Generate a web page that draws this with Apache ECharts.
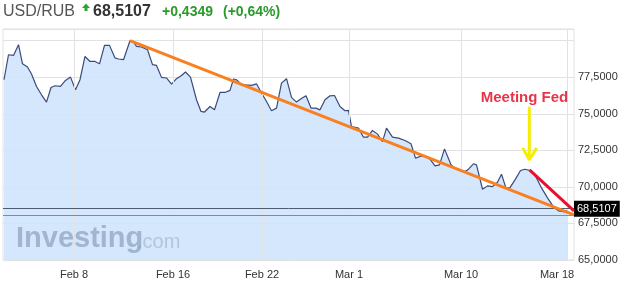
<!DOCTYPE html>
<html>
<head>
<meta charset="utf-8">
<script src="https://cdn.jsdelivr.net/npm/echarts@6/dist/echarts.min.js"></script>
<style>html,body{margin:0;padding:0;background:#fff}#c{width:626px;height:288px}</style>
</head>
<body>
<div id="c"></div>
<script>
// time index (trading sessions, arbitrary linear unit) and USD/RUB rate
const usdRub = [
 [0.2,77.33],[1.1,79.04],[2.1,78.99],[3.1,79.73],[3.9,78.42],[4.9,78.20],[5.7,77.72],[6.7,76.87],
 [7.7,76.30],[8.7,75.80],[9.6,76.80],[10.4,76.92],[11.5,76.87],[12.5,77.28],[13.5,77.51],[14.5,76.64],
 [15.4,77.33],[16.4,78.92],[17.4,78.58],[18.4,78.58],[19.3,78.42],[20.3,79.68],[21.3,79.68],[22.4,78.82],
 [23.1,78.75],[24.1,78.70],[25.4,80.00],[26.1,79.91],[26.7,79.61],[27.7,79.57],[28.9,79.38],[29.9,78.36],
 [30.7,78.31],[31.7,77.49],[32.7,77.45],[33.7,77.03],[34.7,77.40],[35.7,77.62],[36.5,77.86],[37.5,77.51],
 [38.7,75.96],[39.6,75.16],[40.3,75.12],[41.4,75.50],[42.3,75.27],[43.4,76.46],[44.4,76.46],[45.4,76.60],
 [46.1,77.38],[46.7,77.33],[47.7,76.99],[49.7,76.94],[50.7,77.05],[51.7,76.42],[52.7,75.84],[53.7,75.21],
 [54.7,75.39],[55.7,77.10],[56.7,77.40],[57.7,76.12],[58.7,75.80],[59.6,76.03],[60.6,76.23],[61.6,75.39],
 [62.6,75.39],[63.4,75.27],[64.4,75.96],[65.4,76.23],[66.3,76.25],[67.4,75.50],[68.4,75.21],[69.1,75.23],
 [69.7,74.13],[71.1,74.02],[72.1,73.40],[72.9,73.40],[73.9,73.86],[74.9,73.61],[75.9,73.10],[76.7,74.02],
 [77.9,73.40],[79.1,73.34],[80.4,73.17],[81.6,72.95],[82.5,71.97],[83.4,72.08],[84.4,72.08],[85.4,71.90],
 [86.4,71.44],[87.3,71.51],[88.3,72.60],[89.6,71.51],[90.4,71.28],[91.4,71.16],[92.4,71.05],[93.1,71.21],
 [94.1,71.58],[94.7,71.51],[95.9,69.84],[96.9,70.07],[97.9,70.02],[98.9,70.32],[99.7,70.87],[100.6,69.91],
 [101.4,69.95],[102.4,70.48],[103.5,71.12],[104.4,71.21],[105.4,71.12],[106.4,70.82],[107.7,69.93],[108.9,69.25],
 [110.1,68.63],[111.1,68.36],[112.4,68.29],[113.0,68.45]
];
const tickPositions = [14.2, 34, 51.8, 69.2, 91.6, 112.8];
const tickLabels = ['Feb 8', 'Feb 16', 'Feb 22', 'Mar 1', 'Mar 10', 'Mar 18'];
const yTicks = [65, 67.5, 70, 72.5, 75, 77.5];
const lastPrice = 68.5107;
const prevClose = 68.0758;
const change = '+0,4349';
const changePct = '(+0,64%)';
const trendLine = [[25.4, 80.0], [114.2, 68.08]];
const fedDrop = [[105.3, 71.16], [114.2, 68.36]];
const fedArrowStem = [[105.26, 75.48], [105.26, 71.85]];
const fedArrowHead = [[103.94, 72.67], [105.26, 71.85], [106.74, 72.67]];
const fedLabelPos = [104.3, 76.1];
const fedLabel = 'Meeting Fed';

const fmt = v => v.toFixed(4).replace('.', ',');
const FONT = "'Liberation Sans', Arial, sans-serif";

const chart = echarts.init(document.getElementById('c'), null, {renderer: 'canvas'});
chart.setOption({
  animation: false,
  backgroundColor: '#fff',
  grid: {left: 3, right: 52, top: 29, bottom: 28, show: true, borderColor: '#e2e2e2', borderWidth: 1},
  xAxis: {type: 'value', min: 0, max: 114.2, axisLine: {show: false}, axisTick: {show: false},
          axisLabel: {show: false}, splitLine: {show: false}},
  yAxis: {type: 'value', position: 'right', min: 65, max: 80.8, interval: 2.5,
          axisLine: {show: false}, axisTick: {show: false},
          splitLine: {lineStyle: {color: '#e2e2e2', width: 1}},
          axisLabel: {margin: 4, color: '#333', fontSize: 11, fontFamily: FONT, padding: [0, 0, 5, 0],
                      formatter: v => yTicks.some(t => Math.abs(t - v) < 1e-6) ? fmt(v) : ''}},
  series: [
    {
      type: 'line', z: 1, data: [], silent: true,
      markLine: {
        silent: true, symbol: 'none',
        lineStyle: {color: '#e2e2e2', width: 1, type: 'solid'},
        label: {show: true, position: 'start', distance: 9, color: '#333', fontSize: 11, fontFamily: FONT},
        data: tickPositions.map((t, i) => ({
          xAxis: t,
          label: {formatter: tickLabels[i], padding: i === tickPositions.length - 1 ? [0, 20, 0, 0] : 0}
        }))
      }
    },
    {
      type: 'line', z: 2, data: usdRub, showSymbol: false, symbol: 'none', smooth: false,
      lineStyle: {color: '#3b4a7a', width: 1.2},
      areaStyle: {origin: 'start', color: 'rgba(206,228,252,0.88)', opacity: 1}
    },
    {
      type: 'line', z: 4, data: [], silent: true,
      markLine: {
        silent: true, symbol: 'none',
        data: [
          {yAxis: lastPrice, lineStyle: {color: '#4f5b73', width: 1, type: 'solid', opacity: 1},
           label: {show: true, position: 'end', distance: 0, formatter: fmt(lastPrice),
                   backgroundColor: '#000', color: '#fff', fontSize: 11, fontFamily: FONT, padding: [3, 3, 2, 3]}},
          {yAxis: prevClose, lineStyle: {color: '#e5485c', width: 1.2, type: 'solid', opacity: 0.85}, label: {show: false}}
        ]
      }
    },
    {type: 'line', z: 5, data: trendLine, symbol: 'none', lineStyle: {color: '#f98020', width: 3}},
    {type: 'line', z: 5, data: fedDrop, symbol: 'none', lineStyle: {color: '#e8112d', width: 3}},
    {type: 'line', z: 5, data: fedArrowStem, symbol: 'none', lineStyle: {color: '#f5ee00', width: 3}},
    {type: 'line', z: 5, data: fedArrowHead, symbol: 'none', lineStyle: {color: '#f5ee00', width: 3}},
    {type: 'scatter', z: 6, data: [fedLabelPos], symbolSize: 0, itemStyle: {color: '#e3001b'},
     label: {show: true, position: 'inside', formatter: fedLabel, color: '#e3001b',
             textBorderWidth: 0, textBorderColor: 'transparent',
             fontSize: 15, fontWeight: 'bold', fontFamily: FONT}}
  ],
  graphic: [
    {type: 'text', z: 10, style: {x: 3, y: 12, text: 'USD/RUB', fill: '#555', font: '16px ' + FONT, verticalAlign: 'middle'}},
    {type: 'polygon', z: 10, shape: {points: [[82, 8], [86, 3.5], [90, 8], [87.5, 8], [87.5, 11], [84.5, 11], [84.5, 8]]},
     style: {fill: '#2ea52e'}},
    {type: 'text', z: 10, style: {x: 93, y: 12, text: fmt(lastPrice), fill: '#333', font: 'bold 16px ' + FONT, verticalAlign: 'middle'}},
    {type: 'text', z: 10, style: {x: 162, y: 12.5, text: change, fill: '#2a9a2a', font: 'bold 14px ' + FONT, verticalAlign: 'middle'}},
    {type: 'text', z: 10, style: {x: 223, y: 12.5, text: changePct, fill: '#2a9a2a', font: 'bold 14px ' + FONT, verticalAlign: 'middle'}},
    {type: 'text', z: 3, style: {x: 16, y: 239, text: 'Investing', fill: 'rgba(120,140,172,0.55)', font: 'bold 29px ' + FONT, verticalAlign: 'middle'}},
    {type: 'text', z: 3, style: {x: 137, y: 242, text: '.com', fill: 'rgba(130,150,182,0.42)', font: '20px ' + FONT, verticalAlign: 'middle'}}
  ]
});
</script>
</body>
</html>
